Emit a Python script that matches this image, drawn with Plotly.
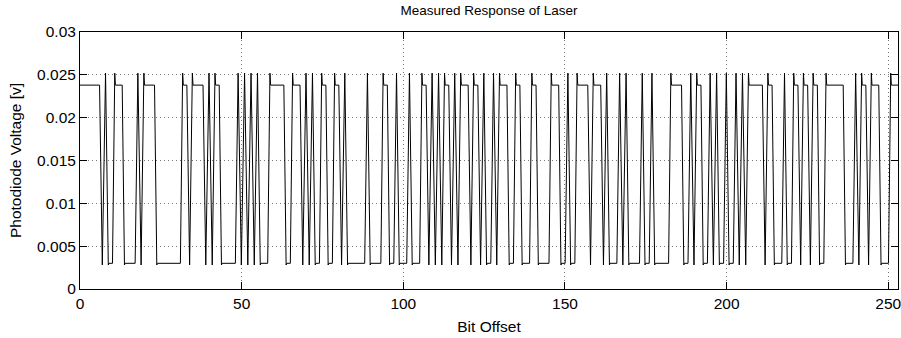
import plotly.graph_objects as go

# Bit pattern (1 = laser on / high level, 0 = low level)
bit_values = [
    1, 1, 1, 1, 1, 1, 1, 0,
    1, 0, 0, 1, 1, 1, 0, 0,
    0, 0, 1, 0, 1, 1, 1, 1,
    0, 0, 0, 0, 0, 0, 0, 0,
    1, 1, 0, 1, 1, 1, 1, 0,
    1, 0, 1, 1, 0, 0, 0, 0,
    0, 1, 0, 1, 0, 1, 0, 1,
    0, 0, 0, 1, 1, 1, 1, 1,
    0, 0, 1, 1, 1, 0, 1, 0,
    1, 0, 0, 1, 1, 0, 0, 1,
    1, 0, 1, 0, 0, 0, 0, 0,
    0, 1, 0, 0, 0, 0, 1, 1,
    0, 0, 1, 0, 0, 0, 1, 0,
    0, 0, 1, 1, 0, 1, 0, 1,
    0, 1, 1, 0, 1, 0, 1, 1,
    1, 0, 1, 1, 0, 1, 0, 0,
    1, 0, 1, 1, 1, 0, 0, 1,
    1, 0, 0, 0, 1, 1, 0, 0,
    0, 0, 1, 1, 1, 0, 0, 1,
    0, 0, 1, 1, 1, 1, 0, 1,
    1, 1, 0, 1, 0, 0, 0, 1,
    0, 1, 0, 0, 0, 0, 1, 0,
    0, 1, 0, 0, 0, 0, 0, 1,
    1, 1, 1, 0, 0, 1, 0, 1,
    1, 0, 0, 1, 0, 1, 0, 0,
    1, 0, 0, 1, 0, 1, 0, 1,
    1, 1, 1, 1, 0, 1, 1, 0,
    0, 0, 1, 0, 0, 1, 1, 0,
    1, 1, 0, 1, 1, 0, 0, 1,
    1, 1, 1, 1, 1, 0, 0, 0,
    1, 0, 1, 1, 0, 1, 1, 1,
    0, 0, 0, 1, 1, 1,
]

# Voltage levels [V]
high_settled = 0.0238
high_peak = 0.0252
low_settled = 0.0030
low_trough = 0.0028
bit_phase = 0.4          # offset of the bit clock edges
x_end = 253.0            # last plotted bit offset

x_ticks = [0, 50, 100, 150, 200, 250]
x_tick_labels = ["0", "50", "100", "150", "200", "250"]
y_ticks = [0, 0.005, 0.01, 0.015, 0.02, 0.025, 0.03]
y_tick_labels = ["0", "0.005", "0.01", "0.015", "0.02", "0.025", "0.03"]

# Group the bits into runs of equal value
runs = []
start = 0
for i in range(1, len(bit_values) + 1):
    if i == len(bit_values) or bit_values[i] != bit_values[start]:
        runs.append((bit_values[start], start, i - start))
        start = i

edge = 0.35
settle = 0.2
xs, ys = [], []
for j, (v, s, n) in enumerate(runs):
    settled = high_settled if v else low_settled
    peak = high_peak if v else low_trough
    p_s = s - 1 + bit_phase
    p_e = s + n - 1 + bit_phase
    if j == 0:
        xs += [0.0, p_e - edge]
        ys += [settled, settled]
    elif j == len(runs) - 1:
        xs += [p_s + edge, p_s + edge + settle, x_end]
        ys += [peak, settled, settled]
    elif n == 1:
        xs.append(p_s + 0.5)
        ys.append(peak)
    else:
        xs += [p_s + edge, p_s + edge + settle, p_e - edge]
        ys += [peak, settled, settled]

font_family = "Liberation Sans, Arial, Helvetica, sans-serif"

fig = go.Figure()
fig.add_trace(go.Scatter(
    x=xs, y=ys, mode="lines",
    line=dict(color="black", width=1),
    hoverinfo="skip", showlegend=False,
))

axis_common = dict(
    showline=True, linecolor="black", linewidth=1, mirror="allticks",
    ticks="inside", ticklen=7, tickwidth=1, tickcolor="black",
    showgrid=True, gridcolor="#777777", gridwidth=1, griddash="1px,3px",
    zeroline=False, automargin=False, ticklabeloverflow="allow",
    tickfont=dict(family=font_family, size=15.5, color="black"),
)

fig.update_xaxes(
    range=[0, x_end], tickmode="array", tickvals=x_ticks, ticktext=x_tick_labels,
    title=dict(text="Bit Offset", standoff=10,
               font=dict(family=font_family, size=15.5, color="black")),
    **axis_common,
)
fig.update_yaxes(
    range=[0, 0.03], tickmode="array", tickvals=y_ticks, ticktext=y_tick_labels,
    title=dict(text="Photodiode Voltage [v]", standoff=11,
               font=dict(family=font_family, size=15.5, color="black")),
    **axis_common,
)

fig.update_layout(
    width=901, height=338,
    margin=dict(l=80, r=3, t=32, b=49),
    paper_bgcolor="white", plot_bgcolor="white",
    title=dict(text="Measured Response of Laser", x=0.5, xref="paper",
               xanchor="center", y=1 - 10 / 338, yref="container", yanchor="middle",
               font=dict(family=font_family, size=13.5, color="black")),
)

fig.write_html("out.html", config={"displayModeBar": False},
               post_script="document.body.style.margin='0px';")
